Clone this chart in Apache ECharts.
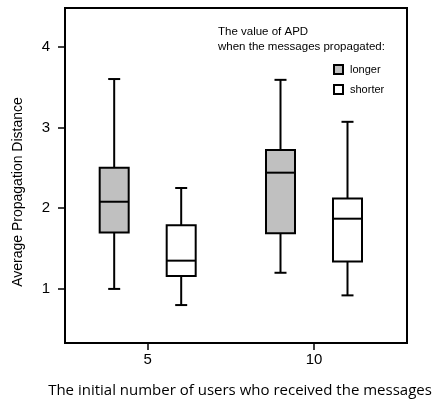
<!DOCTYPE html>
<html>
<head>
<meta charset="utf-8">
<script src="https://cdn.jsdelivr.net/npm/echarts@6/dist/echarts.min.js"></script>
<style>
html,body{margin:0;padding:0;background:#fff;}
#chart{width:435px;height:403px;}
</style>
</head>
<body>
<div id="chart"></div>
<script>
// categories (initial number of users)
const categories = [5, 10];
// box stats: [min, q1, median, q3, max]
const longerStats = [
  [1.00, 1.70, 2.08, 2.50, 3.60],
  [1.20, 1.69, 2.44, 2.72, 3.59]
];
const shorterStats = [
  [0.80, 1.16, 1.35, 1.79, 2.25],
  [0.92, 1.34, 1.87, 2.12, 3.07]
];
const yTicks = [1, 2, 3, 4];
const seriesNames = ['longer', 'shorter'];
const legendTitle = 'The value of APD\nwhen the messages propagated:';
const yTitle = 'Average Propagation Distance';
const xTitle = 'The initial number of users who received the messages';

const fills = { longer: '#c0c0c0', shorter: '#ffffff' };
const offsets = { longer: -33.5, shorter: 33.5 };
const BOX_W = 29, CAP_W = 12, LW = 2;

function makeRender(name) {
  return function (params, api) {
    const x = api.value(0);
    const c = api.coord([x, api.value(3)]);
    const cx = c[0] + offsets[name];
    const yMin = api.coord([x, api.value(1)])[1];
    const yQ1 = api.coord([x, api.value(2)])[1];
    const yMed = c[1];
    const yQ3 = api.coord([x, api.value(4)])[1];
    const yMax = api.coord([x, api.value(5)])[1];
    const ls = { stroke: '#000', lineWidth: LW };
    return {
      type: 'group',
      children: [
        { type: 'line', shape: { x1: cx, y1: yQ3, x2: cx, y2: yMax }, style: ls },
        { type: 'line', shape: { x1: cx, y1: yQ1, x2: cx, y2: yMin }, style: ls },
        { type: 'line', shape: { x1: cx - CAP_W / 2, y1: yMax, x2: cx + CAP_W / 2, y2: yMax }, style: ls },
        { type: 'line', shape: { x1: cx - CAP_W / 2, y1: yMin, x2: cx + CAP_W / 2, y2: yMin }, style: ls },
        { type: 'rect', shape: { x: cx - BOX_W / 2, y: yQ3, width: BOX_W, height: yQ1 - yQ3 },
          style: { fill: fills[name], stroke: '#000', lineWidth: LW } },
        { type: 'line', shape: { x1: cx - BOX_W / 2, y1: yMed, x2: cx + BOX_W / 2, y2: yMed }, style: ls }
      ]
    };
  };
}

function toData(stats) {
  return categories.map((c, i) => [c].concat(stats[i]));
}

const chart = echarts.init(document.getElementById('chart'), null, { renderer: 'canvas' });
chart.setOption({
  animation: false,
  backgroundColor: '#fff',
  textStyle: { fontFamily: 'Liberation Sans' },
  title: {
    text: legendTitle,
    left: 218, top: 24, padding: 0,
    textStyle: { fontFamily: 'Liberation Sans', fontSize: 11.5, fontWeight: 'normal', color: '#000', lineHeight: 15 }
  },
  legend: {
    orient: 'vertical',
    left: 333, top: 64, padding: 0,
    itemWidth: 9, itemHeight: 9, itemGap: 9,
    icon: 'rect',
    textStyle: { fontFamily: 'Liberation Sans', fontSize: 11, color: '#000', padding: [0, 0, 0, 2] },
    data: [
      { name: 'longer', itemStyle: { color: fills.longer, borderColor: '#000', borderWidth: 2 } },
      { name: 'shorter', itemStyle: { color: fills.shorter, borderColor: '#000', borderWidth: 2 } }
    ]
  },
  grid: { left: 65, right: 28, top: 8, bottom: 59, show: true, borderColor: '#000', borderWidth: 2, backgroundColor: 'transparent' },
  xAxis: {
    type: 'value', min: 2.514, max: 12.796,
    axisLine: { show: true, lineStyle: { color: '#000', width: 2 } },
    axisTick: { show: true, customValues: categories, length: 7, lineStyle: { color: '#000', width: 1.5 } },
    axisLabel: { customValues: categories, fontSize: 15, color: '#000', margin: 9, fontFamily: 'Liberation Sans' },
    splitLine: { show: false },
    name: xTitle, nameLocation: 'middle', nameGap: 40,
    nameTextStyle: { fontFamily: 'Open Sans', fontSize: 15, color: '#000', padding: [0, 0, 0, 8] }
  },
  yAxis: {
    type: 'value', min: 0.33, max: 4.48,
    axisLine: { show: true, lineStyle: { color: '#000', width: 2 } },
    axisTick: { show: true, customValues: yTicks, length: 7, lineStyle: { color: '#000', width: 1.5 } },
    axisLabel: { customValues: yTicks, fontSize: 15, color: '#000', margin: 15, fontFamily: 'Liberation Sans' },
    splitLine: { show: false }
  },
  graphic: [{
    type: 'text', x: 18, y: 192, rotation: Math.PI / 2,
    style: { text: yTitle, fontFamily: 'Liberation Sans', fontSize: 14, fill: '#000', align: 'center', verticalAlign: 'middle' }
  }],
  series: seriesNames.map(n => ({
    name: n,
    type: 'custom',
    renderItem: makeRender(n),
    itemStyle: { color: fills[n], borderColor: '#000' },
    encode: { x: 0, y: [1, 2, 3, 4, 5] },
    data: toData(n === 'longer' ? longerStats : shorterStats)
  }))
});
</script>
</body>
</html>
